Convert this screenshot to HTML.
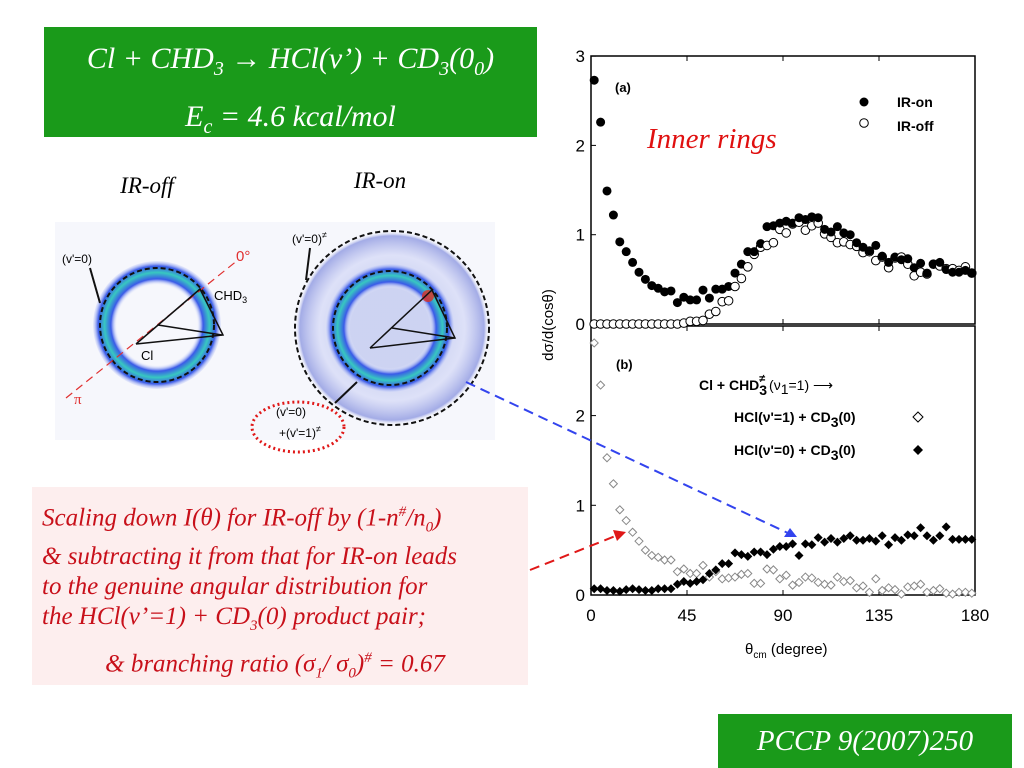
<!DOCTYPE html>
<html><head><meta charset="utf-8"><style>
html,body{margin:0;padding:0;background:#fff;}
#root{position:relative;width:1024px;height:768px;overflow:hidden;font-family:"Liberation Serif",serif;}
.abs{position:absolute;}
</style></head><body>
<div id="root">
<div class="abs" style="left:44px;top:27px;width:493px;height:110px;background:#1a9a1a;color:#fff;font-style:italic;font-size:30px;text-align:center;line-height:48px;padding-top:8px;box-sizing:border-box;">
<div>Cl + CHD<sub style="font-size:20px">3</sub> → HCl(v’) + CD<sub style="font-size:20px">3</sub>(0<sub style="font-size:20px">0</sub>)</div>
<div>E<sub style="font-size:20px">c</sub> = 4.6 kcal/mol</div>
</div>
<div class="abs" style="left:718px;top:714px;width:294px;height:54px;background:#1a9a1a;color:#fff;font-style:italic;font-size:29px;text-align:center;line-height:54px;">PCCP 9(2007)250</div>
<div class="abs" style="left:32px;top:487px;width:496px;height:198px;background:#fdeeee;color:#c8101a;font-style:italic;font-size:25px;line-height:30px;padding:10px 0 0 10px;box-sizing:border-box;">
<div>Scaling down I(θ) for IR-off by (1-n<sup style="font-size:15px">#</sup>/n<sub style="font-size:15px">0</sub>)</div>
<div>&amp; subtracting it from that for IR-on leads</div>
<div>to the genuine angular distribution for</div>
<div>the HCl(v’=1) + CD<sub style="font-size:15px">3</sub>(0) product pair;</div>
<div style="margin-top:2px;text-align:center;padding-right:20px;">&amp; branching ratio (σ<sub style="font-size:15px">1</sub>/ σ<sub style="font-size:15px">0</sub>)<sup style="font-size:15px">#</sup> = 0.67</div>
</div>
<svg class="abs" style="left:0;top:0" width="1024" height="768" id="svg">
<defs>
<radialGradient id="ringOff" cx="0.5" cy="0.5" r="0.5">
<stop offset="0.62" stop-color="#fff" stop-opacity="0"/>
<stop offset="0.72" stop-color="#3a5ae8"/>
<stop offset="0.82" stop-color="#38c8c0"/>
<stop offset="0.92" stop-color="#3a5ae8"/>
<stop offset="1" stop-color="#c8d0f8" stop-opacity="0.3"/>
</radialGradient>
<radialGradient id="outerOn" cx="0.5" cy="0.5" r="0.5">
<stop offset="0.5" stop-color="#8090e0" stop-opacity="0.35"/>
<stop offset="0.75" stop-color="#b0b8f0" stop-opacity="0.35"/>
<stop offset="0.95" stop-color="#5060d0" stop-opacity="0.5"/>
<stop offset="1" stop-color="#fff" stop-opacity="0"/>
</radialGradient>
</defs>
<rect x="55" y="222" width="440" height="218" fill="#f6f7fc"/>
<text x="147" y="193" font-size="23" font-style="italic" text-anchor="middle">IR-off</text>
<text x="380" y="188" font-size="23" font-style="italic" text-anchor="middle">IR-on</text>
<g>
<circle cx="157" cy="325" r="64" fill="url(#ringOff)"/>
<circle cx="157" cy="325" r="57" fill="none" stroke="#111" stroke-width="2" stroke-dasharray="5,3"/>
<line x1="66" y1="398" x2="238" y2="260" stroke="#e03030" stroke-dasharray="8,5" stroke-width="1.2"/>
<text x="236" y="261" font-size="15" fill="#e03030" font-family="Liberation Sans">0°</text>
<text x="74" y="404" font-size="15" fill="#e03030">π</text>
<polyline points="136,344 200,289 223,335 136,344" fill="none" stroke="#111" stroke-width="1.5"/>
<line x1="158" y1="325" x2="222" y2="335" stroke="#111" stroke-width="1.5"/>
<text x="141" y="360" font-size="13" font-family="Liberation Sans">Cl</text>
<text x="214" y="300" font-size="13" font-family="Liberation Sans">CHD<tspan font-size="9" dy="3">3</tspan></text>
<text x="62" y="263" font-size="12" font-family="Liberation Sans">(v'=0)</text>
<line x1="90" y1="268" x2="100" y2="303" stroke="#111" stroke-width="2"/>
</g>
<g>
<circle cx="392" cy="328" r="97" fill="url(#outerOn)"/>
<circle cx="392" cy="328" r="97" fill="none" stroke="#111" stroke-width="2" stroke-dasharray="5,3"/>
<circle cx="390" cy="328" r="64" fill="url(#ringOff)"/>
<circle cx="390" cy="328" r="57" fill="none" stroke="#111" stroke-width="2" stroke-dasharray="5,3"/>
<circle cx="428" cy="296" r="6" fill="#e03020" opacity="0.8"/>
<polyline points="370,348 432,290 455,338 370,348" fill="none" stroke="#111" stroke-width="1.5"/>
<line x1="392" y1="328" x2="455" y2="338" stroke="#111" stroke-width="1.5"/>
<text x="292" y="243" font-size="12" font-family="Liberation Sans">(v'=0)<tspan font-size="9" dy="-5">≠</tspan></text>
<line x1="310" y1="248" x2="306" y2="280" stroke="#111" stroke-width="2"/>
<line x1="335" y1="403" x2="357" y2="382" stroke="#111" stroke-width="2"/>
<ellipse cx="298" cy="427" rx="46" ry="25" fill="none" stroke="#e01818" stroke-width="3" stroke-dasharray="2,3"/>
<text x="276" y="416" font-size="12" font-family="Liberation Sans">(v'=0)</text>
<text x="279" y="437" font-size="12" font-family="Liberation Sans">+(v'=1)<tspan font-size="9" dy="-5">≠</tspan></text>
</g>
<g id="charts"></g>
<line x1="466" y1="382" x2="790" y2="534" stroke="#3344ee" stroke-width="2" stroke-dasharray="10,6"/>
<polygon points="797,537 784,537 790,528" fill="#3344ee"/>
<line x1="530" y1="570" x2="618" y2="535" stroke="#e01818" stroke-width="2" stroke-dasharray="10,6"/>
<polygon points="626,532 613,530 617,541" fill="#e01818"/>
</svg>
</div>
<script>
const angles=[];for(let i=0;i<60;i++)angles.push(1.5+3*i);
const irOn=[2.73,2.26,1.49,1.22,0.92,0.81,0.69,0.58,0.50,0.43,0.40,0.36,0.37,0.24,0.30,0.27,0.27,0.38,0.29,0.39,0.39,0.42,0.57,0.67,0.81,0.81,0.90,1.09,1.10,1.13,1.15,1.13,1.19,1.17,1.20,1.19,1.06,1.03,1.09,1.02,1.00,0.91,0.86,0.82,0.88,0.76,0.69,0.75,0.72,0.73,0.63,0.68,0.57,0.67,0.69,0.61,0.58,0.58,0.60,0.57];
const irOff=[0,0,0,0,0,0,0,0,0,0,0,0,0,0,0.01,0.03,0.03,0.04,0.11,0.14,0.25,0.26,0.42,0.51,0.64,0.78,0.86,0.88,0.91,1.06,1.02,1.12,1.14,1.05,1.10,1.13,1.01,0.97,0.91,0.92,0.89,0.87,0.80,0.81,0.71,0.75,0.63,0.74,0.75,0.67,0.54,0.58,0.56,0.67,0.65,0.62,0.62,0.60,0.64,0.57];
const v1=[2.81,2.34,1.53,1.24,0.95,0.83,0.70,0.60,0.50,0.44,0.42,0.39,0.39,0.26,0.29,0.24,0.24,0.33,0.20,0.26,0.18,0.19,0.20,0.23,0.24,0.13,0.13,0.29,0.28,0.18,0.22,0.11,0.14,0.20,0.19,0.14,0.12,0.11,0.20,0.15,0.16,0.08,0.10,0.03,0.18,0.05,0.08,0.06,0.01,0.09,0.10,0.12,0.03,0.05,0.07,0.02,0.01,0.03,0.03,0.02];
const v0=[0.07,0.07,0.05,0.05,0.04,0.06,0.07,0.06,0.05,0.05,0.07,0.07,0.07,0.12,0.15,0.13,0.15,0.17,0.24,0.28,0.35,0.35,0.47,0.45,0.43,0.48,0.48,0.45,0.51,0.54,0.54,0.57,0.44,0.57,0.56,0.64,0.59,0.63,0.59,0.63,0.66,0.61,0.61,0.63,0.60,0.66,0.56,0.64,0.61,0.67,0.66,0.75,0.66,0.61,0.66,0.76,0.62,0.62,0.62,0.62];
const xTicks=[0,45,90,135,180];
const yTicks=[0,1,2,3];
const NS='http://www.w3.org/2000/svg';
const g=document.getElementById('charts');
function mk(t,a,p){const e=document.createElementNS(NS,t);for(const k in a)e.setAttribute(k,a[k]);(p||g).appendChild(e);return e;}
const X0=591,X1=975;
const xs=d=>X0+(X1-X0)*d/180;
const ya=v=>324-v*89.3;
const yb=v=>595-v*89.7;
const fa=mk('rect',{x:X0,y:56,width:X1-X0,height:268,fill:'none',stroke:'#000','stroke-width':1.5});


const fb=mk('rect',{x:X0,y:326,width:X1-X0,height:269,fill:'none',stroke:'#000','stroke-width':1.5});


for(const d of xTicks){
  for(const [yy,dir] of [[324,-1],[595,-1],[56,1],[326,1]]){mk('line',{x1:xs(d),x2:xs(d),y1:yy,y2:yy+dir*5,stroke:'#000'});}
  const t=mk('text',{x:xs(d),y:621,'font-size':17,'text-anchor':'middle','font-family':'Liberation Sans'});
  t.textContent=d;
  
  
}
for(const v of yTicks){
  mk('line',{x1:X0,x2:X0+5,y1:ya(v),y2:ya(v),stroke:'#000'});
  const t=mk('text',{x:X0-6,y:ya(v)+6,'font-size':17,'text-anchor':'end','font-family':'Liberation Sans'});
  t.textContent=v;
  
  
  if(v<3){
  mk('line',{x1:X0,x2:X0+5,y1:yb(v),y2:yb(v),stroke:'#000'});
  const t2=mk('text',{x:X0-6,y:yb(v)+6,'font-size':17,'text-anchor':'end','font-family':'Liberation Sans'});
  t2.textContent=v;
  
  }
}
const yl=mk('text',{x:0,y:0,'font-size':15,'text-anchor':'middle','font-family':'Liberation Sans',transform:'translate(553,325) rotate(-90)'});
yl.textContent='dσ/d(cosθ)';


const xl=mk('text',{x:745,y:654,'font-size':15,'font-family':'Liberation Sans'});
xl.innerHTML='θ<tspan font-size="10" dy="4">cm</tspan><tspan dy="-4"> (degree)</tspan>';


angles.forEach((a,i)=>{
  const c=mk('circle',{cx:xs(a),cy:ya(irOff[i]),r:4.3,fill:'#fff',stroke:'#000','stroke-width':1});
  
  
  const c2=mk('circle',{cx:xs(a),cy:ya(irOn[i]),r:4.5,fill:'#000'});
  
  
  const x=xs(a),y1=yb(v1[i]),y0=yb(v0[i]);
  const d1=mk('polygon',{points:`${x},${y1-4} ${x+4},${y1} ${x},${y1+4} ${x-4},${y1}`,fill:'#fff',stroke:'#888','stroke-width':1});
  
  
  const d0=mk('polygon',{points:`${x},${y0-4.5} ${x+4.5},${y0} ${x},${y0+4.5} ${x-4.5},${y0}`,fill:'#000'});
  
  
});
function txt(x,y,s,html,name,extra){const t=mk('text',Object.assign({x:x,y:y,'font-size':s,'font-family':'Liberation Sans','font-weight':'bold'},extra||{}));t.innerHTML=html;return t;}
txt(615,92,13,'(a)','panel-a-label');
txt(616,369,13,'(b)','panel-b-label');
txt(897,107,14,'IR-on','legend-ir-on');
txt(897,131,14,'IR-off','legend-ir-off');
mk('circle',{cx:864,cy:102,r:4.5,fill:'#000'});
mk('circle',{cx:864,cy:123,r:4.3,fill:'#fff',stroke:'#000'});
const ir=mk('text',{x:647,y:148,'font-size':29,'font-style':'italic',fill:'#e01010','font-family':'Liberation Serif'});
ir.textContent='Inner rings';


txt(699,390,14,'Cl + CHD<tspan font-size="14" dy="5">3</tspan><tspan font-size="11" dx="-8" dy="-13">≠</tspan><tspan font-weight="normal" dy="8"> (ν<tspan dy="4">1</tspan><tspan dy="-4">=1)   ⟶</tspan></tspan>','legend-title');
txt(734,422,14,'HCl(ν\'=1) + CD<tspan dy="5">3</tspan><tspan dy="-5">(0)</tspan>','legend-v1');
txt(734,455,14,'HCl(ν\'=0) + CD<tspan dy="5">3</tspan><tspan dy="-5">(0)</tspan>','legend-v0');
mk('polygon',{points:'918,412 923,417 918,422 913,417',fill:'#fff',stroke:'#000'});
mk('polygon',{points:'918,445 923,450 918,455 913,450',fill:'#000'});
</script>
</body></html>
